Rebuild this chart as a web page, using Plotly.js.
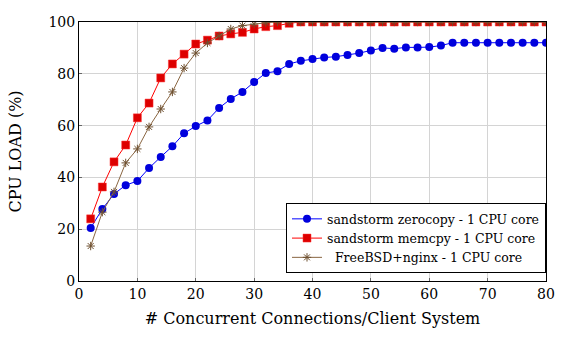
<!DOCTYPE html>
<html><head><meta charset="utf-8">
<script src="https://cdn.plot.ly/plotly-3.0.1.min.js"></script>
<style>html,body{margin:0;padding:0;background:#fff}#c{width:566px;height:342px}</style>
</head><body><div id="c"></div>
<script>
const connections = [2,4,6,8,10,12,14,16,18,20,22,24,26,28,30,32,34,36,38,40,42,44,46,48,50,52,54,56,58,60,62,64,66,68,70,72,74,76,78,80];
const zerocopy = [20.5,27.8,33.6,37,38.6,43.6,47.9,52,57,59.8,62,66.8,70.3,73,76.8,80.3,81,83.8,85,85.7,86.3,86.6,87.3,88,89,90,89.7,90.2,90.2,90.3,90.9,92,92,92,92,92,92,92,92,92];
const memcpy = [24,36.3,46,52.5,63,68.7,78.4,83.8,87.6,91.5,93,94.6,95.4,96,97.3,98.2,98.6,99.5,100,100,100,100,100,100,100,100,100,100,100,100,100,100,100,100,100,100,100,100,100,100];
const nginx = [13.5,26.6,34.4,45.6,51,59.5,66.4,73,82.2,88,91.9,94.6,97.3,98.6,99.2,99.7,100,100,100,100,100,100,100,100,100,100,100,100,100,100,100,100,100,100,100,100,100,100,100,100];
const seriesNames = ['sandstorm zerocopy - 1 CPU core','sandstorm memcpy - 1 CPU core','  FreeBSD+nginx - 1 CPU core'];
const xTitle = '# Concurrent Connections/Client System';
const yTitle = 'CPU LOAD (%)';

const font = 'DejaVu Serif';
const traces = [
  {x: connections, y: zerocopy, name: seriesNames[0], mode: 'lines+markers',
   line: {color: '#0000ff', width: 1}, marker: {symbol: 'circle', size: 8, color: '#0000dd'}},
  {x: connections, y: memcpy, name: seriesNames[1], mode: 'lines+markers',
   line: {color: '#ff0000', width: 1}, marker: {symbol: 'square', size: 8, color: '#dd0000', line: {color: '#ff3333', width: 0.5}}},
  {x: connections, y: nginx, name: seriesNames[2], mode: 'lines+markers',
   line: {color: '#8a6642', width: 1}, marker: {symbol: 'asterisk-open', size: 7, color: '#6e5030', line: {color: '#6e5030', width: 1}}}
];
const axisCommon = {
  showline: true, mirror: true, linecolor: '#000', linewidth: 1,
  showgrid: true, gridcolor: '#d4d4d4', gridwidth: 1,
  ticks: 'inside', ticklen: 3, tickcolor: '#666',
  zeroline: false, tickfont: {family: font, size: 14, color: '#000'}
};
const layout = {
  width: 566, height: 342,
  margin: {l: 79, r: 20, t: 22, b: 61},
  paper_bgcolor: '#fff', plot_bgcolor: '#fff',
  font: {family: font, color: '#000'},
  xaxis: Object.assign({}, axisCommon, {range: [0, 80], dtick: 10, tick0: 0,
    title: {text: xTitle, font: {family: font, size: 16}, standoff: 12}}),
  yaxis: Object.assign({}, axisCommon, {range: [0, 100], dtick: 20, tick0: 0,
    title: {text: yTitle, font: {family: font, size: 16}, standoff: 22}}),
  legend: {x: 1, xanchor: 'right', y: 0.03, yanchor: 'bottom',
    bordercolor: '#000', borderwidth: 1, bgcolor: '#fff',
    font: {family: font, size: 12.5}, tracegroupgap: 0, itemwidth: 30},
  showlegend: true
};
Plotly.newPlot('c', traces, layout, {displayModeBar: false, staticPlot: true});
</script>
</body></html>
